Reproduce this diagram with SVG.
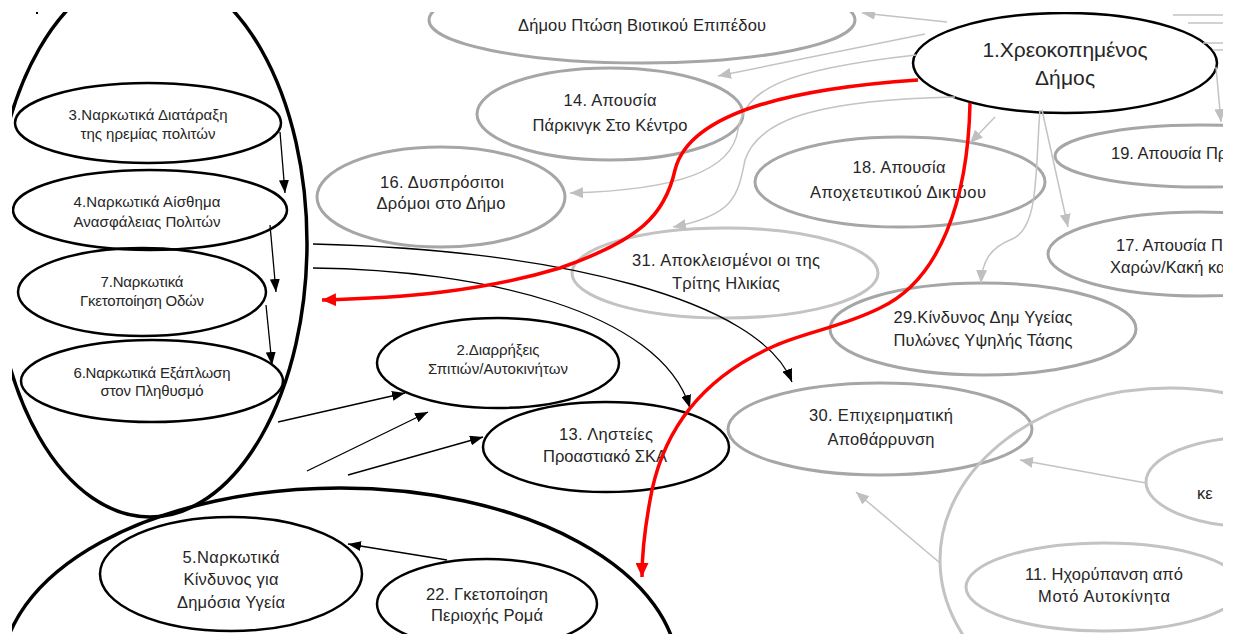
<svg xmlns="http://www.w3.org/2000/svg" width="1233" height="634" viewBox="0 0 1233 634">
<defs>
<clipPath id="view"><rect x="12" y="12" width="1211" height="622"/></clipPath>
<marker id="ab" markerUnits="userSpaceOnUse" markerWidth="13" markerHeight="10" refX="13" refY="5" orient="auto"><path d="M0,0 L13,5 L0,10 z" fill="#000"/></marker>
<marker id="ag" markerUnits="userSpaceOnUse" markerWidth="13" markerHeight="11" refX="13" refY="5.5" orient="auto"><path d="M0,0 L13,5.5 L0,11 z" fill="#bfbfbf"/></marker>
<marker id="ar" markerUnits="userSpaceOnUse" markerWidth="14" markerHeight="13" refX="14" refY="6.5" orient="auto"><path d="M0,0 L14,6.5 L0,13 z" fill="#ff0000"/></marker>
</defs>
<style>
ellipse{fill:none}
.b{stroke:#000;stroke-width:2.5}
.bb{stroke:#000;stroke-width:3.5}
.g{stroke:#a6a6a6;stroke-width:3}
.lg{stroke:#c3c3c3;stroke-width:3}
text{font-family:"Liberation Sans",Arial,sans-serif;fill:#262626;text-anchor:middle}
.s{text-anchor:start}
.cb{fill:none;stroke:#000;stroke-width:1.3}
.cg{fill:none;stroke:#c3c3c3;stroke-width:1.5}
.cr{fill:none;stroke:#ff0000;stroke-width:3.5}
</style>
<rect width="1233" height="634" fill="#fff"/>
<g clip-path="url(#view)">
<rect x="36" y="12" width="2" height="2" fill="#000"/>
<g id="n-bigleft"><ellipse class="bb" cx="150" cy="243" rx="157" ry="274"/></g>
<g id="n-bigbottom"><ellipse class="bb" cx="340" cy="673" rx="338" ry="185"/></g>
<g id="n-top"><ellipse class="g" cx="642" cy="20" rx="213" ry="43"/><text x="642" y="31" font-size="16.5" textLength="248">Δήμου Πτώση Βιοτικού Επιπέδου</text></g>
<g id="n1"><ellipse class="b" cx="1065" cy="63" rx="152" ry="50"/><text x="1065" y="57" font-size="21" textLength="165">1.Χρεοκοπημένος</text><text x="1065" y="85" font-size="21" textLength="60">Δήμος</text></g>
<g id="n14"><ellipse class="g" cx="610" cy="114" rx="133" ry="46"/><text x="610" y="106" font-size="16.5" textLength="93">14. Απουσία</text><text x="610" y="131" font-size="16.5" textLength="155">Πάρκινγκ Στο Κέντρο</text></g>
<g id="n16"><ellipse class="g" cx="441" cy="197" rx="124" ry="50"/><text x="442" y="188" font-size="16.5" textLength="124">16. Δυσπρόσιτοι</text><text x="441" y="209" font-size="16.5" textLength="129">Δρόμοι στο Δήμο</text></g>
<g id="n18"><ellipse class="g" cx="900" cy="182" rx="145" ry="45"/><text x="899" y="173" font-size="16.5" textLength="93">18. Απουσία</text><text x="898" y="198" font-size="16.5" textLength="176">Αποχετευτικού Δικτύου</text></g>
<g id="n19"><ellipse class="g" cx="1200" cy="156" rx="145" ry="31"/><text class="s" x="1111" y="159" font-size="16.5">19. Απουσία Πρ</text></g>
<g id="n17"><ellipse class="g" cx="1200" cy="254" rx="152" ry="42"/><text class="s" x="1116" y="251" font-size="16.5">17. Απουσία Π</text><text class="s" x="1110" y="273" font-size="16.5">Χαρών/Κακή κα</text></g>
<g id="n31"><ellipse class="lg" cx="725" cy="273" rx="153" ry="45"/><text x="726" y="266" font-size="16.5" textLength="188">31. Αποκλεισμένοι οι της</text><text x="726" y="289" font-size="16.5" textLength="108">Τρίτης Ηλικίας</text></g>
<g id="n29"><ellipse class="g" cx="983" cy="329" rx="153" ry="46"/><text x="983" y="323" font-size="16.5" textLength="179">29.Κίνδυνος Δημ Υγείας</text><text x="983" y="346" font-size="16.5" textLength="179">Πυλώνες Υψηλής Τάσης</text></g>
<g id="n30"><ellipse class="g" cx="880" cy="429" rx="152" ry="46"/><text x="881" y="421" font-size="16.5" textLength="144">30. Επιχειρηματική</text><text x="881" y="445" font-size="16.5" textLength="107">Αποθάρρυνση</text></g>
<g id="n-bigright"><ellipse class="lg" cx="1170" cy="560" rx="230" ry="172"/></g>
<g id="n-ke"><ellipse class="lg" cx="1256" cy="482" rx="110" ry="45"/><text class="s" x="1197" y="499" font-size="16.5">κε</text></g>
<g id="n11"><ellipse class="lg" cx="1104" cy="587" rx="138" ry="44"/><text x="1104" y="580" font-size="16.5" textLength="158">11. Ηχορύπανση από</text><text x="1104" y="602" font-size="16.5" textLength="132">Μοτό Αυτοκίνητα</text></g>
<g id="n2"><ellipse class="b" cx="498" cy="363" rx="121" ry="45"/><text x="498" y="355" font-size="15" textLength="83">2.Διαρρήξεις</text><text x="498" y="374" font-size="15" textLength="140">Σπιτιών/Αυτοκινήτων</text></g>
<g id="n13"><ellipse class="b" cx="606" cy="447" rx="123" ry="45"/><text x="606" y="440" font-size="16.5" textLength="94">13. Ληστείες</text><text x="605" y="462" font-size="16.5" textLength="124">Προαστιακό ΣΚΑ</text></g>
<g id="n22"><ellipse class="b" cx="487" cy="604" rx="110" ry="45"/><text x="487" y="600" font-size="16.5" textLength="122">22. Γκετοποίηση</text><text x="487" y="621" font-size="16.5" textLength="112">Περιοχής Ρομά</text></g>
<g id="n5"><ellipse class="b" cx="231" cy="574" rx="131" ry="57"/><text x="231" y="563" font-size="16.5" textLength="97">5.Ναρκωτικά</text><text x="231" y="585" font-size="16.5" textLength="95">Κίνδυνος για</text><text x="231" y="608" font-size="16.5" textLength="108">Δημόσια Υγεία</text></g>
<g id="n3"><ellipse class="b" cx="148" cy="123" rx="133" ry="40"/><text x="148" y="120" font-size="15" textLength="159">3.Ναρκωτικά Διατάραξη</text><text x="148" y="139" font-size="15" textLength="135">της ηρεμίας πολιτών</text></g>
<g id="n4"><ellipse class="b" cx="150" cy="210" rx="137" ry="40"/><text x="147" y="207" font-size="15" textLength="147">4.Ναρκωτικά Αίσθημα</text><text x="147" y="227" font-size="15" textLength="147">Ανασφάλειας Πολιτών</text></g>
<g id="n7"><ellipse class="b" cx="142" cy="292" rx="124" ry="44"/><text x="142" y="287" font-size="15" textLength="83">7.Ναρκωτικά</text><text x="142" y="306" font-size="15" textLength="124">Γκετοποίηση Οδών</text></g>
<g id="n6"><ellipse class="b" cx="152" cy="381" rx="131" ry="41"/><text x="152" y="378" font-size="15" textLength="157">6.Ναρκωτικά Εξάπλωση</text><text x="152" y="396" font-size="15" textLength="103">στον Πληθυσμό</text></g>
<g id="connectors">
<path class="cg" d="M947,22 L862,13" marker-end="url(#ag)"/>
<path class="cg" d="M925,34 L718,76" marker-end="url(#ag)"/>
<path class="cg" d="M916,55 C780,70 745,90 738,130 C732,170 680,190 570,193" marker-end="url(#ag)"/>
<path class="cg" d="M955,97 C830,100 760,115 745,160 C738,195 735,215 673,227" marker-end="url(#ag)"/>
<path class="cg" d="M995,117 L970,143" marker-end="url(#ag)"/>
<path class="cg" d="M1040,110 C1035,170 1040,230 1010,240 C990,248 982,262 981,283" marker-end="url(#ag)"/>
<path class="cg" d="M1042,110 L1068,227" marker-end="url(#ag)"/>
<path class="cg" d="M1216,67 L1221,122" marker-end="url(#ag)"/>
<path class="cg" d="M1173,15 L1225,15 M1188,23 L1225,23 M1203,43 L1225,43 M1213,50 L1225,50"/>
<path class="cg" d="M1146,483 L1020,460" marker-end="url(#ag)"/>
<path class="cg" d="M940,563 L856,492" marker-end="url(#ag)"/>
<path class="cb" d="M280,132 L285,193" marker-end="url(#ab)"/>
<path class="cb" d="M270,225 L276,292" marker-end="url(#ab)"/>
<path class="cb" d="M266,305 L272,365" marker-end="url(#ab)"/>
<path class="cb" d="M278,422 L405,393" marker-end="url(#ab)"/>
<path class="cb" d="M307,471 L428,412" marker-end="url(#ab)"/>
<path class="cb" d="M348,475 L483,437" marker-end="url(#ab)"/>
<path class="cb" d="M447,560 L348,544" marker-end="url(#ab)"/>
<path class="cb" d="M313,244 C560,250 760,300 792,382" marker-end="url(#ab)"/>
<path class="cb" d="M313,268 C480,270 660,310 690,408" marker-end="url(#ab)"/>
<path class="cr" d="M918,80 C800,88 690,110 675,170 C665,215 640,240 560,268 C480,292 400,298 322,300" marker-end="url(#ar)"/>
<path class="cr" d="M970,103 C968,200 940,280 880,308 C840,328 800,333 770,348 C700,380 665,430 652,490 C644,530 642,560 642,577" marker-end="url(#ar)"/>
</g>
</g>
</svg>
